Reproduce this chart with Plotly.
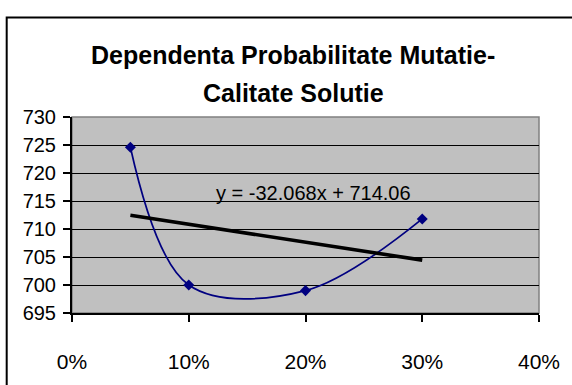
import numpy as np
import plotly.graph_objects as go

# Mutation probability vs. solution quality
prob = [0.05, 0.10, 0.20, 0.30]
calitate = [724.6, 700.0, 699.0, 711.8]

# Linear trendline coefficients
slope = -32.068
intercept = 714.06

x_ticks = [0.0, 0.1, 0.2, 0.3, 0.4]
y_ticks = [695, 700, 705, 710, 715, 720, 725, 730]

title_lines = ["Dependenta Probabilitate Mutatie-", "Calitate Solutie"]

W, H = 572, 385
L, R, T, B = 72, 28, 117, 56
pw, ph = W - L - R, H - T - B


def px_to_paper_x(px):
    return (px - L) / pw


def px_to_paper_y(py):
    return (H - B - py) / ph


FONT = "Liberation Sans, Arial, sans-serif"

trend_x = np.array([min(prob), max(prob)])
trend_y = slope * trend_x + intercept

fig = go.Figure()

fig.add_trace(go.Scatter(
    x=prob, y=calitate,
    mode="lines+markers",
    line=dict(color="#000080", width=1.7, shape="spline", smoothing=1.0),
    marker=dict(symbol="diamond", size=8.5, color="#000080"),
    showlegend=False, hoverinfo="skip",
))

fig.add_trace(go.Scatter(
    x=trend_x, y=trend_y,
    mode="lines",
    line=dict(color="black", width=3.6),
    showlegend=False, hoverinfo="skip",
))

eq_text = f"y = {slope:g}x + {intercept:g}"

annotations = [
    dict(text=eq_text, x=0.2068, y=716.4, xref="x", yref="y",
         showarrow=False, font=dict(family=FONT, size=20, color="black"),
         xanchor="center", yanchor="middle"),
    dict(text=f"<b>{title_lines[0]}</b>", x=px_to_paper_x(295), y=px_to_paper_y(50),
         xref="paper", yref="paper", showarrow=False,
         font=dict(family=FONT, size=25, color="black"),
         xanchor="center", yanchor="middle"),
    dict(text=f"<b>{title_lines[1]}</b>", x=px_to_paper_x(296), y=px_to_paper_y(91),
         xref="paper", yref="paper", showarrow=False,
         font=dict(family=FONT, size=25, color="black"),
         xanchor="center", yanchor="middle"),
]

shapes = [
    # chart frame
    dict(type="rect", xref="paper", yref="paper",
         x0=px_to_paper_x(6), x1=px_to_paper_x(620),
         y0=px_to_paper_y(440), y1=px_to_paper_y(9.5),
         line=dict(color="black", width=2), layer="above"),
    # plot area border (top / right)
    dict(type="rect", xref="paper", yref="paper", x0=0, x1=1, y0=0, y1=1,
         line=dict(color="#808080", width=1.5), layer="below"),
]

fig.update_layout(
    width=W, height=H,
    margin=dict(l=L, r=R, t=T, b=B),
    paper_bgcolor="white",
    plot_bgcolor="#C0C0C0",
    font=dict(family=FONT, size=20, color="black"),
    annotations=annotations,
    shapes=shapes,
)

fig.update_xaxes(
    range=[0, 0.4], tickvals=x_ticks, tickformat=".0%",
    tickfont=dict(size=21),
    showgrid=False, zeroline=False,
    showline=True, linecolor="black", linewidth=2,
    ticks="outside", ticklen=7, tickwidth=1.5, tickcolor="black",
    ticklabelstandoff=22,
)
fig.update_yaxes(
    range=[695, 730], tickvals=y_ticks,
    showgrid=True, gridcolor="black", gridwidth=1.2,
    zeroline=False,
    showline=True, linecolor="black", linewidth=2,
    ticks="outside", ticklen=7, tickwidth=1.5, tickcolor="black",
    ticklabelstandoff=3,
)

fig.write_html("out.html")
